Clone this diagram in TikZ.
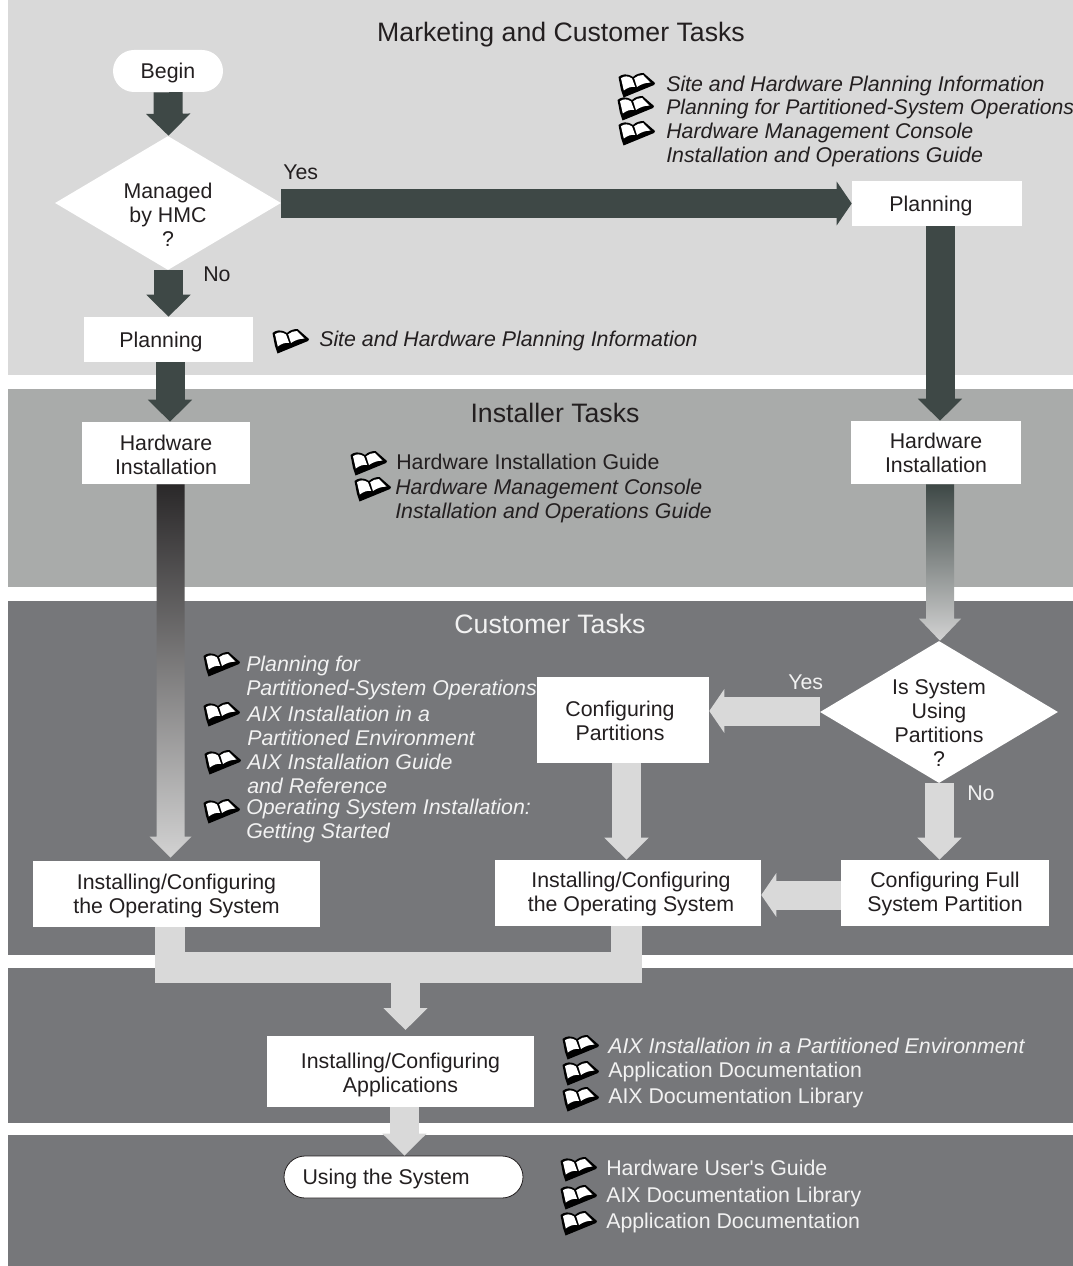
\documentclass[tikz,border=0pt]{standalone}
\usepackage{fontspec}
\setmainfont{Liberation Sans}
\newfontfamily\plainsans{Liberation Sans}
\usetikzlibrary{arrows.meta,calc,shapes.geometric,shapes.misc}
\definecolor{bandA}{HTML}{D9D9D9}
\definecolor{bandB}{HTML}{A9ABAA}
\definecolor{bandC}{HTML}{76777A}
\definecolor{arrD}{HTML}{3E4846}
\definecolor{arrL}{HTML}{D9D9D9}
\definecolor{gradK}{HTML}{2A2829}
\definecolor{gradE}{HTML}{D2D2D2}
\definecolor{ink}{HTML}{231F20}
\definecolor{pale}{HTML}{F2F2F2}
\def\u{0.75pt}
\tikzset{
  x=0.75pt,y=-0.75pt,
  txt/.style={font=\fontsize{16}{18}\selectfont,text=ink,align=center,inner sep=0pt},
  lift/.style={execute at begin node={\rule{0pt}{#1}}},
  boxn/.style={txt,rectangle,fill=white,draw=none,lift=15pt},
  decis/.style={diamond,fill=white,inner sep=0pt,minimum width=#1},
  cap/.style={txt,text=#1,anchor=west,align=left},
  cap/.default=ink,
  itcap/.style={cap=#1,font=\fontsize{16}{18}\selectfont\itshape},
  itcap/.default=ink,
  head/.style={inner sep=0pt,font=\fontsize{20}{22}\selectfont,text=#1},
  darrow/.style={draw=arrD,line width=29*\u,-{Triangle[length=16.5pt,width=32.25pt]}},
  larrow/.style={draw=arrL,line width=29*\u,-{Triangle[length=16.5pt,width=32.25pt]}},
  sidehead/.style={-{Triangle[length=11.25pt,width=32.25pt]}},
}
\newcommand\bandrect[3]{\fill[#3] (8,#1) rectangle (1073,#2);}
\newcommand\bookicon[2]{%
  \begin{scope}[shift={(#1,#2)}]
    \fill[black] (0.5,4) .. controls (4,1) and (9,0) .. (15,4) .. controls (18,1) and (22,0) .. (25.5,0)
      -- (37,10) -- (36,12) -- (5.5,24.5) -- (3,17) -- cycle;
    \fill[white] (3,5.2) .. controls (6,3) and (10,2.5) .. (14,5.5) -- (17.2,14)
      .. controls (13,13.2) and (9,15) .. (5.8,17.5) -- cycle;
    \fill[white] (16.2,5.2) .. controls (19,3) and (22,2) .. (25,2) -- (32.5,9.6)
      .. controls (28,9.6) and (23,11) .. (19,14) -- cycle;
  \end{scope}}
\begin{document}
\begin{tikzpicture}
\useasboundingbox (0,0) rectangle (1073,1266);
\fill[white] (0,0) rectangle (1073,1266);
\bandrect{0}{375}{bandA}
\bandrect{389}{587}{bandB}
\bandrect{601}{955}{bandC}
\bandrect{968}{1123}{bandC}
\bandrect{1135}{1266}{bandC}

% headings
\node[head=ink] (hmarket) at (561,35) {Marketing and Customer Tasks};
\node[head=ink] (hinstall) at (555,413) {Installer Tasks};
\node[head=pale] (hcustomer) at (550,624) {Customer Tasks};

% flow nodes
\node[boxn,rounded rectangle,minimum width=110*\u,minimum height=42*\u] (begin) at (168,71) {Begin};
\node[decis=226*\u,minimum height=134*\u] (hmc) at (168,203) {};
\node[txt] (hmctext) at (168,215) {Managed\\by HMC\\?};
\node[boxn,minimum width=169*\u,minimum height=45*\u] (planl) at (168.5,339.5) {Planning\hspace{11.25pt}};
\node[boxn,minimum width=170*\u,minimum height=45*\u] (planr) at (937,203.5) {Planning\hspace{9pt}};
\node[boxn,lift=32.5pt,minimum width=168*\u,minimum height=62*\u] (hwl) at (166,453) {Hardware\\Installation};
\node[boxn,lift=30pt,minimum width=170*\u,minimum height=63*\u] (hwr) at (936,452.5) {Hardware\\Installation};
\node[decis=238*\u,minimum height=142*\u] (parts) at (939,712) {};
\node[txt] (partstext) at (939,723) {Is System\\Using\\Partitions\\?};
\node[boxn,lift=30.8pt,minimum width=172*\u,minimum height=86*\u] (cfgp) at (623,720) {Configuring\kern4.5pt\\Partitions\kern4.5pt};
\node[boxn,lift=33pt,minimum width=287*\u,minimum height=66*\u] (osl) at (176.5,894) {Installing/Configuring\\the Operating System};
\node[boxn,lift=31.2pt,minimum width=266*\u,minimum height=66*\u] (osr) at (628,893) {\kern4.5pt Installing/Configuring\\\kern4.5pt the Operating System};
\node[boxn,lift=31.2pt,minimum width=208*\u,minimum height=66*\u] (cfgf) at (945,893) {Configuring Full\\System Partition};
\node[boxn,lift=34.2pt,minimum width=267*\u,minimum height=71*\u] (apps) at (400.5,1071.5) {Installing/Configuring\\Applications};
\node[boxn,rounded rectangle,draw=ink,line width=0.6pt,minimum width=239*\u,minimum height=42*\u] (usesys) at (403.5,1177) {Using the System\hspace{26pt}};

% dark connectors
\draw[darrow] (168,0 |- begin.south) -- (168.5,0 |- hmc.north);
\draw[darrow] (168.5,0 |- hmc.south) -- (168.5,0 |- planl.north);
\draw[darrow] (170,0 |- planl.south) -- (170,0 |- hwl.north);
\draw[darrow,sidehead] (hmc.east |- 0,203.5) -- (planr.west);
\draw[darrow] (940,0 |- planr.south) -- (940,0 |- hwr.north);

% graded connectors
\coordinate (gla) at (170.5,0 |- hwl.south);
\coordinate (glb) at (170.5,0 |- osl.north);
\shade[top color=gradK,bottom color=gradE]
  ($(gla)+(-14,0)$) -- ($(gla)+(14,0)$) -- ($(glb)+(14,-24)$) -- ($(glb)+(21,-24)$) -- ($(glb)+(0,-3)$)
  -- ($(glb)+(-21,-24)$) -- ($(glb)+(-14,-24)$) -- cycle;
\coordinate (gra) at (940,0 |- hwr.south);
\coordinate (grb) at (940,0 |- parts.north);
\shade[top color=arrD,bottom color=gradE]
  ($(gra)+(-14,0)$) -- ($(gra)+(14,0)$) -- ($(grb)+(14,-22)$) -- ($(grb)+(21,-22)$) -- (grb)
  -- ($(grb)+(-21,-22)$) -- ($(grb)+(-14,-22)$) -- cycle;

% light connectors
\draw[larrow,sidehead] (parts.west |- 0,711) -- (cfgp.east |- 0,711);
\draw[larrow] (626.5,0 |- cfgp.south) -- (626.5,0 |- osr.north);
\draw[larrow] (939.5,0 |- parts.south) -- (939.5,0 |- cfgf.north);
\draw[larrow,sidehead] (cfgf.west |- 0,895) -- (osr.east |- 0,895);
\coordinate (merge) at (405.5,967.5);
\draw[draw=arrL,line width=30.5*\u,line join=miter] (170,0 |- osl.south) |- (merge) -| (626.5,0 |- osr.south);
\draw[larrow] (merge) -- (405.5,1030) ;
\draw[larrow] (404.5,0 |- apps.south) -- (404.5,0 |- usesys.north);

% branch labels
\node[cap] (yesa) at (283,172) {Yes};
\node[cap] (noa) at (203,274) {No};
\node[cap=pale] (yesb) at (788,682) {Yes};
\node[cap=pale] (nob) at (967,793) {No};

% documentation, marketing
\bookicon{618}{73}\bookicon{617}{96}\bookicon{618}{121}
\node[itcap] (doca) at (666,86) {Site and Hardware Planning Information};
\node[itcap,font=\fontsize{15.9}{18}\selectfont\itshape] (docb) at (666,109) {Planning for Partitioned-System Operations};
\node[itcap] (docc) at (666,145) {Hardware Management Console\\Installation and Operations Guide};
\bookicon{272}{329}
\node[itcap] (docd) at (319,341) {Site and Hardware Planning Information};

% documentation, installer
\bookicon{350}{451}\bookicon{354}{477}
\node[cap] (doce) at (396,462) {Hardware Installation Guide};
\node[itcap] (docf) at (395,501) {Hardware Management Console\\Installation and Operations Guide};

% documentation, customer
\bookicon{203}{652}\bookicon{203}{702}\bookicon{204}{750}\bookicon{203}{799}
\node[itcap=pale] (docg) at (246,678) {Planning for\\Partitioned-System Operations};
\node[itcap=pale] (doch) at (247,726) {AIX Installation in a\\Partitioned Environment};
\node[itcap=pale] (doci) at (247,774) {AIX Installation Guide\\and Reference};
\node[itcap=pale] (docj) at (246,821) {Operating System Installation:\\Getting Started};

% documentation, applications
\bookicon{562}{1035}\bookicon{562}{1061}\bookicon{562}{1087}
\node[itcap=pale] (dock) at (608,1046) {AIX Installation in a Partitioned Environment};
\node[cap=pale] (docl) at (608,1071.5) {Application Documentation};
\node[cap=pale] (docm) at (608,1097.5) {AIX Documentation Library};

% documentation, use
\bookicon{560}{1157}\bookicon{560}{1185}\bookicon{560}{1211}
\node[cap=pale] (docn) at (606,1168) {Hardware User{\plainsans'}s Guide};
\node[cap=pale] (doco) at (606,1196.5) {AIX Documentation Library};
\node[cap=pale] (docp) at (606,1222.5) {Application Documentation};
\end{tikzpicture}
\end{document}
